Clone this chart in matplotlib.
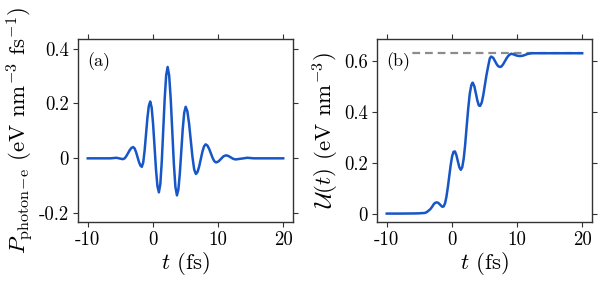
import matplotlib
matplotlib.use("Agg")
import matplotlib.pyplot as plt

# fonts like latex
plt.rcParams['font.family'] = 'serif'
plt.rcParams['font.serif'] = ['cmr10']
plt.rcParams['mathtext.fontset'] = 'cm'
plt.rcParams['axes.unicode_minus'] = False

# panel (a): power photon -> electrons
t_p = [-10, -8, -6.5, -6.05, -5.6, -5.1, -4.6,
       -4.34, -4.08, -3.815, -3.55, -3.29, -3.03,
       -2.81, -2.587, -2.365, -2.143, -1.92, -1.7,
       -1.485, -1.27, -1.055, -0.84, -0.625, -0.41,
       -0.188, 0.033, 0.255, 0.477, 0.698, 0.92,
       1.143, 1.367, 1.59, 1.813, 2.037, 2.26,
       2.498, 2.737, 2.975, 3.213, 3.452, 3.69,
       3.913, 4.137, 4.36, 4.583, 4.807, 5.03,
       5.292, 5.553, 5.815, 6.077, 6.338, 6.6,
       6.85, 7.1, 7.35, 7.6, 7.85, 8.1,
       8.367, 8.633, 8.9, 9.167, 9.433, 9.7,
       10.075, 10.45, 10.825, 11.2,
       11.575, 11.95, 12.325, 12.7, 13.6, 14.5, 15.5, 17, 20]
P = [0, 0, 0, 0.001, 0.002, -0.0005, -0.003,
     -0.0001, 0.008, 0.019, 0.030, 0.0381, 0.041,
     0.0362, 0.023, 0.005, -0.013, -0.0262, -0.031,
     -0.0151, 0.0285, 0.088, 0.1475, 0.1911, 0.207,
     0.1848, 0.1242, 0.0415, -0.0413, -0.1018, -0.124,
     -0.0934, -0.0097, 0.1045, 0.2188, 0.3024, 0.333,
     0.3016, 0.216, 0.099, -0.018, -0.1034, -0.135,
     -0.1134, -0.0543, 0.0265, 0.1073, 0.1664, 0.188,
     0.1716, 0.1268, 0.0655, 0.0043, -0.0406, -0.057,
     -0.0498, -0.030, -0.003, 0.024, 0.0438, 0.051,
     0.0466, 0.0345, 0.018, 0.0015, -0.0106, -0.015,
     -0.0112, -0.002, 0.0072, 0.011,
     0.0088, 0.0035, -0.0018, -0.004, -0.001, 0.002, 0.0, 0.0, 0.0]

# panel (b): accumulated energy
t_u = [-10, -8, -6, -5, -4.6, -4.34, -4.08, -3.815, -3.55, -3.29, -3.03,
       -2.81, -2.587, -2.365, -2.143, -1.92, -1.7, -1.485, -1.27, -1.055,
       -0.84, -0.625, -0.41, -0.188, 0.033, 0.255, 0.477, 0.698, 0.92,
       1.143, 1.367, 1.59, 1.813, 2.037, 2.26, 2.498, 2.737, 2.975, 3.15,
       3.213, 3.452, 3.69, 3.913, 4.137, 4.33, 4.583, 4.807, 5.03, 5.292,
       5.553, 5.815, 6.02, 6.338, 6.6, 6.85, 7.1, 7.4, 7.6, 7.85, 8.1,
       8.367, 8.633, 8.9, 9.09, 9.433, 9.7, 10.075, 10.45, 10.825, 11.2,
       11.6, 12.27, 13.5, 15, 20]
U = [0, 0, 0.0005, 0.001, 0.002, 0.002, 0.003, 0.0066, 0.012, 0.018, 0.027,
     0.036, 0.042, 0.044, 0.043, 0.038, 0.032, 0.027, 0.028, 0.040,
     0.066, 0.103, 0.146, 0.190, 0.225, 0.243, 0.244, 0.229, 0.205,
     0.182, 0.172, 0.182, 0.216, 0.271, 0.340, 0.411, 0.470, 0.504, 0.514,
     0.514, 0.4995, 0.471, 0.4435, 0.425, 0.423, 0.4365, 0.464, 0.4995, 0.542,
     0.577, 0.6095, 0.617, 0.612, 0.600, 0.588, 0.579, 0.576, 0.578, 0.586, 0.597,
     0.609, 0.619, 0.625, 0.628, 0.626, 0.623, 0.620, 0.619, 0.620, 0.623,
     0.627, 0.630, 0.630, 0.630, 0.630]
U_final = 0.63

xticks = [-10, 0, 10, 20]
xticklabels = ['-10', '0', '10', '20']
yticks_a = [-0.2, 0, 0.2, 0.4]
yticklabels_a = ['-0.2', '0', '0.2', '0.4']
yticks_b = [0, 0.2, 0.4, 0.6]
yticklabels_b = ['0', '0.2', '0.4', '0.6']

blue = '#1656c6'
spine_col = '#333333'

fig = plt.figure(figsize=(5.98, 2.85), dpi=100)
ax1 = fig.add_axes([0.1304, 0.2211, 0.3595, 0.6421])
ax2 = fig.add_axes([0.6304, 0.2211, 0.3595, 0.6421])

ax1.plot(t_p, P, color=blue, lw=1.8)
ax1.set_xlim(-11.5, 21.5)
ax1.set_ylim(-0.232, 0.435)
ax1.set_yticks(yticks_a)
ax1.set_yticklabels(yticklabels_a)
ax1.set_ylabel(r'$P_{\rm photon\!-\!e}$ (eV nm$^{-3}$ fs$^{-1}$)', fontsize=16.5, labelpad=2)
ax1.text(0.045, 0.93, '(a)', transform=ax1.transAxes, fontsize=13, va='top', ha='left')

ax2.axhline(U_final, xmin=0.045, xmax=0.955, color='#8c8c8c', ls=(0, (3.5, 2.2)), lw=1.6)
ax2.plot(t_u, U, color=blue, lw=1.8)
ax2.set_xlim(-11.5, 21.5)
ax2.set_ylim(-0.033, 0.686)
ax2.set_yticks(yticks_b)
ax2.set_yticklabels(yticklabels_b)
ax2.set_ylabel(r'$\mathcal{U}(t)$ (eV nm$^{-3}$)', fontsize=16.5, labelpad=2)
ax2.text(0.045, 0.93, '(b)', transform=ax2.transAxes, fontsize=13, va='top', ha='left',
         bbox=dict(facecolor='white', edgecolor='none', pad=0.5), zorder=5)

for ax in (ax1, ax2):
    ax.set_xticks(xticks)
    ax.set_xticklabels(xticklabels)
    ax.set_xlabel(r'$t$ (fs)', fontsize=16.5, labelpad=1)
    ax.tick_params(direction='out', top=True, right=True, length=3.5, width=0.8,
                   color=spine_col, labelsize=13.5, pad=3)
    for s in ax.spines.values():
        s.set_color(spine_col)
        s.set_linewidth(1.0)

fig.savefig('out.png', dpi=100)
